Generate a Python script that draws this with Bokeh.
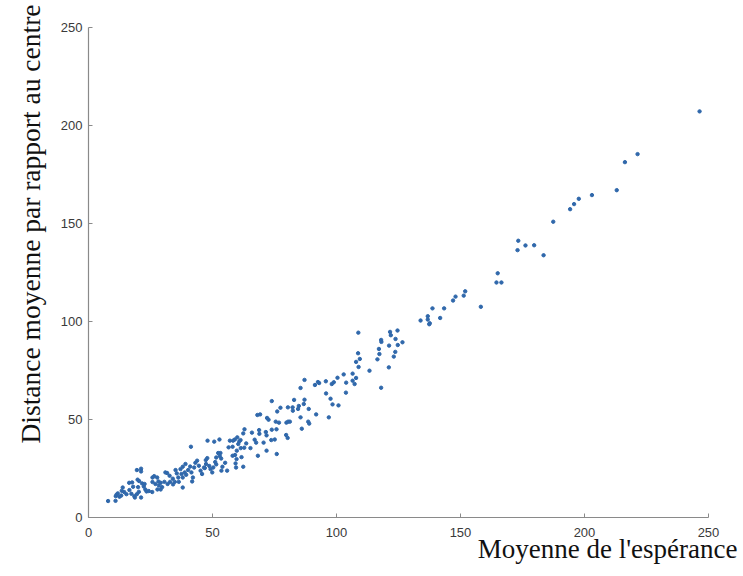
from bokeh.plotting import figure
from bokeh.models import Range1d, FixedTicker, Title, ColumnDataSource
from bokeh.embed import file_html
from bokeh.resources import INLINE

x_ticks = [0, 50, 100, 150, 200, 250]
y_ticks = [0, 50, 100, 150, 200, 250]
x_label = "Moyenne de l'espérance"
y_label = "Distance moyenne par rapport au centre"

# upper sparse part
x_hi = [246.4, 221.4, 216.3, 213.0, 203.0, 197.7, 195.8, 194.2, 187.4, 183.5,
        179.7, 176.2, 173.3, 173.0, 165.0, 164.5, 166.5, 158.2, 151.9, 151.3,
        148.0, 147.0, 143.4, 138.7, 141.8, 136.8, 136.8, 137.6, 137.4, 133.9]
y_hi = [207.2, 185.4, 181.3, 167.0, 164.5, 162.6, 159.9, 157.3, 150.9, 133.8,
        138.9, 138.8, 141.2, 136.4, 124.6, 119.9, 119.9, 107.5, 115.4, 113.2,
        112.7, 110.7, 106.7, 106.7, 101.8, 102.7, 101.0, 99.1, 98.6, 100.5]

# middle part (about 95 - 130)
x_mid = [124.6, 121.6, 121.9, 123.8, 118.0, 118.1, 126.6, 121.2, 124.7, 117.1,
         123.7, 117.3, 123.1, 116.5, 121.1, 113.3, 118.0, 108.8, 108.7, 109.4,
         107.9, 108.9, 106.5, 107.9, 106.5, 107.3, 102.9, 103.9, 100.4, 98.9,
         98.1, 103.8, 97.6]
y_mid = [95.4, 94.7, 93.0, 91.1, 90.6, 89.6, 89.4, 87.7, 88.0, 86.0,
         84.5, 83.4, 82.1, 80.7, 76.6, 74.9, 66.2, 94.3, 83.8, 80.9,
         79.4, 76.8, 73.4, 71.2, 69.8, 68.1, 73.0, 68.8, 71.3, 69.0,
         68.1, 63.7, 60.6]

# 45 - 100
x_lo = [95.7, 92.5, 93.0, 91.3, 87.1, 85.5, 95.8, 98.4, 100.8, 96.9,
        91.8, 88.8, 87.1, 86.8, 84.8, 82.9, 84.5, 82.4, 80.4, 82.3,
        77.4, 76.1, 73.9, 72.0, 72.6, 69.2, 68.1, 75.5, 76.8, 75.8,
        79.8, 80.5, 81.2, 85.5, 88.6, 89.0, 86.0, 79.7, 80.3, 73.9,
        71.5, 71.8, 68.8, 68.9, 65.9, 67.0, 62.9, 62.4, 73.7, 75.1,
        70.6, 71.8, 75.9, 68.3, 67.6, 65.3, 63.6, 62.8, 61.4, 61.3,
        60.8, 60.0, 59.0, 58.3, 57.0, 56.5, 58.1, 60.4, 59.8, 52.8,
        50.7, 48.0, 59.1, 58.1, 61.7, 53.2, 52.3, 52.9, 53.5, 51.5,
        51.1, 51.5, 59.7, 59.3, 59.5, 62.4, 55.1, 54.0, 47.9, 47.3,
        48.7, 46.9, 50.3, 55.9]
y_lo = [69.5, 69.1, 68.6, 67.6, 70.2, 66.1, 63.3, 57.7, 57.2, 51.1,
        52.6, 55.4, 60.1, 57.9, 56.9, 60.0, 55.4, 54.5, 56.2, 56.2,
        56.0, 54.1, 59.4, 50.8, 49.9, 52.6, 52.3, 48.9, 48.4, 45.0,
        48.4, 48.9, 48.9, 51.1, 48.9, 47.9, 45.3, 42.1, 40.6, 44.8,
        43.6, 41.9, 44.6, 42.7, 43.3, 39.7, 45.0, 42.9, 39.5, 39.8,
        38.2, 34.1, 32.4, 31.5, 38.2, 35.4, 37.8, 35.6, 35.4, 39.5,
        38.8, 40.9, 39.8, 39.2, 39.2, 35.8, 36.1, 37.5, 34.1, 39.8,
        38.7, 39.2, 31.9, 31.5, 30.8, 32.9, 32.9, 31.4, 30.1, 30.6,
        28.3, 27.1, 29.8, 27.6, 25.5, 25.9, 27.9, 25.9, 30.3, 29.3,
        26.3, 25.2, 25.5, 23.9]

# dense lower-left part
x_dense = [7.9, 10.9, 11.3, 11.8, 11.0, 12.5, 13.2, 13.4, 13.8, 14.4,
           15.3, 16.4, 16.5, 17.6, 18.0, 17.3, 18.5, 19.8, 20.4, 19.5,
           21.2, 21.2, 20.0, 20.3, 19.5, 21.2, 18.7, 21.6, 22.3, 22.9,
           23.4, 22.6, 24.3, 25.7, 25.8, 26.5, 25.8, 27.0, 27.7, 28.2,
           28.4, 29.1, 29.7, 29.1, 27.8, 30.6, 31.0, 31.7, 32.7, 31.9,
           32.9, 34.0, 35.1, 35.6, 34.8, 34.1, 36.2, 36.4, 37.1, 38.0,
           39.1, 37.5, 38.0, 38.8, 39.4, 40.2, 41.0, 41.3, 41.5, 42.1,
           38.0, 41.8, 42.6, 43.1, 43.8, 44.5, 45.2, 45.8, 46.6, 47.4,
           49.2, 49.9, 53.6]
y_dense = [8.4, 8.5, 11.6, 12.3, 10.9, 10.6, 11.2, 13.6, 15.3, 13.0,
           11.9, 17.7, 14.0, 17.9, 15.7, 12.1, 10.9, 19.3, 18.6, 24.2,
           24.9, 23.5, 15.5, 13.1, 11.9, 10.2, 10.2, 17.4, 15.8, 14.3,
           13.3, 17.1, 13.5, 13.0, 20.4, 21.1, 18.1, 17.1, 20.4, 18.4,
           16.3, 17.7, 15.5, 14.3, 14.3, 18.2, 23.0, 22.7, 21.3, 17.1,
           18.2, 19.8, 24.2, 22.5, 18.2, 16.9, 20.4, 18.2, 24.7, 25.9,
           27.3, 22.2, 20.4, 23.0, 21.8, 24.2, 26.0, 36.1, 23.0, 20.4,
           15.3, 18.4, 25.5, 27.9, 29.0, 26.4, 23.9, 22.2, 25.5, 27.3,
           24.7, 23.0, 23.9]

xs = x_hi + x_mid + x_lo + x_dense
ys = y_hi + y_mid + y_lo + y_dense
src = ColumnDataSource(dict(x=xs, y=ys))

p = figure(width=743, height=576, output_backend="svg", toolbar_location=None,
           x_range=Range1d(0, 250), y_range=Range1d(0, 250),
           min_border_left=88, min_border_right=35, min_border_top=27,
           min_border_bottom=59)
p.background_fill_color = "white"
p.border_fill_color = "white"
p.outline_line_color = None
p.grid.visible = False

p.scatter("x", "y", source=src, size=3.4, color="#3068ab", line_color="#3068ab")

for ax, tks in ((p.xaxis[0], x_ticks), (p.yaxis[0], y_ticks)):
    ax.ticker = FixedTicker(ticks=tks)
    ax.axis_line_color = "#8a8a8a"
    ax.axis_line_width = 1.2
    ax.major_tick_line_color = "#8a8a8a"
    ax.major_tick_in = 4
    ax.major_tick_out = 0
    ax.minor_tick_line_color = None
    ax.major_label_text_font = "Liberation Sans"
    ax.major_label_text_font_size = "13px"
    ax.major_label_text_color = "#3a3a3a"
p.xaxis[0].major_label_standoff = 10
p.yaxis[0].major_label_standoff = 6

p.add_layout(Title(text=x_label, align="right", offset=-29, standoff=-12,
                   vertical_align="top",
                   text_font="Liberation Serif", text_font_size="27px",
                   text_font_style="normal", text_color="#111111"), "below")
p.add_layout(Title(text=y_label, align="right", offset=-23, standoff=24,
                   text_font="Liberation Serif", text_font_size="27.5px",
                   text_font_style="normal", text_color="#111111"), "left")

open("out.html", "w").write(file_html(p, INLINE))
